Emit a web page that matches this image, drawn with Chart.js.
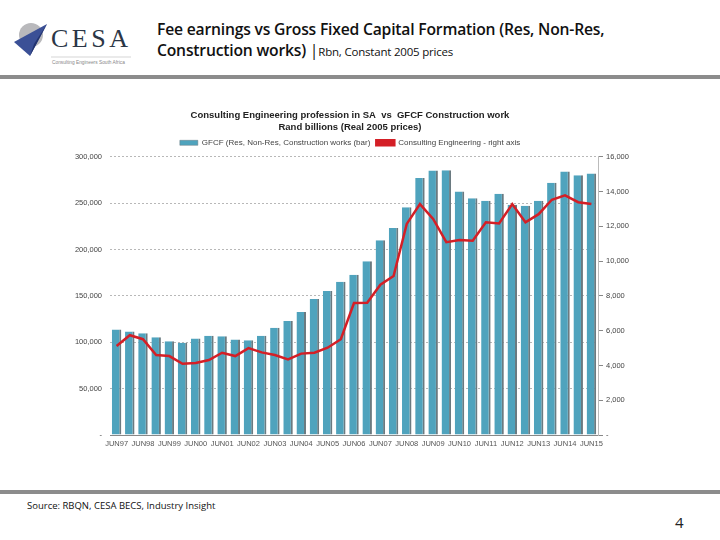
<!DOCTYPE html>
<html>
<head>
<meta charset="utf-8">
<script src="https://cdn.jsdelivr.net/npm/chart.js@4.4.1/dist/chart.umd.min.js"></script>
<style>
  body { margin: 0; width: 720px; height: 540px; background: #fff; position: relative; overflow: hidden; font-family: "Liberation Sans", Arial, sans-serif; }
  .head { position: absolute; left: 157px; top: 19px; font-family: "Open Sans", sans-serif; font-weight: 600; font-size: 15.7px; line-height: 21px; color: #111; letter-spacing: -0.2px; }
  .head small { font-size: 11.5px; font-weight: 400; letter-spacing: -0.2px; }
  .rule { position: absolute; left: 0; width: 720px; height: 4px; background: #8c8c8c; }
  .source { position: absolute; left: 27px; top: 499px; font-family: "Open Sans", sans-serif; font-size: 9.5px; color: #111; }
  .page { position: absolute; left: 675px; top: 512px; font-family: "Open Sans", sans-serif; font-size: 15px; color: #222; }
  #wrap { position: absolute; left: 50px; top: 100px; width: 600px; height: 352px; }
</style>
</head>
<body>
<svg style="position:absolute;left:0;top:10px" width="160" height="60">
  <circle cx="31" cy="25" r="12" fill="#b9b9bc"/>
  <polygon points="14,32 47,14 30,46" fill="#3b5096"/>
  <polygon points="30,46 47,14 34,34" fill="#22336f"/>
  <text x="51" y="37" font-family="Liberation Serif, serif" font-size="26" letter-spacing="3.5" fill="#2b3646">CESA</text>
  <line x1="51" y1="47" x2="131" y2="47" stroke="#bbb" stroke-width="0.6"/>
  <text x="52" y="54" font-family="Liberation Sans, sans-serif" font-size="4.8" fill="#888">Consulting Engineers South Africa</text>
</svg>
<div class="head">Fee earnings vs Gross Fixed Capital Formation (Res, Non-Res,<br>Construction works) <span style="font-weight:400">|</span><small>Rbn, Constant 2005 prices</small></div>
<div class="rule" style="top:75px"></div>
<div id="wrap"><canvas id="myChart"></canvas></div>
<div class="rule" style="top:490px"></div>
<div class="source">Source: RBQN, CESA BECS, Industry Insight</div>
<div class="page">4</div>
<script>
const periods = ['JUN97','DEC97','JUN98','DEC98','JUN99','DEC99','JUN00','DEC00','JUN01','DEC01',
  'JUN02','DEC02','JUN03','DEC03','JUN04','DEC04','JUN05','DEC05','JUN06','DEC06',
  'JUN07','DEC07','JUN08','DEC08','JUN09','DEC09','JUN10','DEC10','JUN11','DEC11',
  'JUN12','DEC12','JUN13','DEC13','JUN14','DEC14','JUN15'];
const tickLabels = ['JUN97','JUN98','JUN99','JUN00','JUN01','JUN02','JUN03','JUN04','JUN05','JUN06',
  'JUN07','JUN08','JUN09','JUN10','JUN11','JUN12','JUN13','JUN14','JUN15'];
const gfcf = [113800,111600,109800,105400,101100,99600,104000,106900,106500,102900,
  102200,106900,115600,122800,132600,146700,155400,165200,172800,187300,
  210100,223200,245700,277200,285100,285500,262700,255400,252500,260100,
  248200,247100,252500,272100,284100,280100,281900];
const consulting = [5120,5740,5510,4600,4540,4100,4140,4310,4730,4540,
  5000,4750,4600,4350,4680,4730,5020,5510,7590,7610,
  8640,9140,12140,13280,12430,11090,11210,11170,12230,12170,
  13280,12230,12700,13530,13780,13390,13280];

const fmt = v => v === 0 ? '-' : v.toLocaleString('en-US');
const tickFont = { family: 'Liberation Sans, Arial', size: 7.5 };

new Chart(document.getElementById('myChart'), {
  data: {
    labels: periods,
    datasets: [
      {
        type: 'line',
        label: 'Consulting Engineering - right axis',
        data: consulting,
        yAxisID: 'y1',
        borderColor: '#d41f26',
        backgroundColor: '#d41f26',
        borderWidth: 2.5,
        pointRadius: 0,
        tension: 0
      },
      {
        type: 'bar',
        label: 'GFCF (Res, Non-Res, Construction works (bar)',
        data: gfcf,
        yAxisID: 'y',
        backgroundColor: '#4fa3bd',
        borderColor: '#6a7a80',
        borderWidth: { left: 0, right: 2, top: 0, bottom: 0 },
        borderSkipped: false,
        categoryPercentage: 0.72,
        barPercentage: 1
      }
    ]
  },
  options: {
    responsive: true,
    maintainAspectRatio: false,
    animation: false,
    layout: { padding: 0 },
    plugins: {
      title: {
        display: true,
        text: ['Consulting Engineering profession in SA  vs  GFCF Construction work', 'Rand billions (Real 2005 prices)'],
        font: { family: 'Liberation Sans, Arial', size: 9.5, weight: 'bold' },
        color: '#222',
        padding: { top: 10, bottom: 0 },
        lineHeight: 1.25
      },
      legend: {
        reverse: true,
        labels: {
          font: { family: 'Liberation Sans, Arial', size: 8 },
          color: '#444',
          boxWidth: 18,
          boxHeight: 5,
          padding: 6
        }
      },
      tooltip: { enabled: false }
    },
    scales: {
      x: {
        grid: { display: false, drawTicks: false },
        border: { color: '#888' },
        ticks: {
          font: tickFont, color: '#555', autoSkip: false, maxRotation: 0, padding: 4,
          callback: (v, i) => tickLabels.includes(periods[i]) ? periods[i] : ''
        }
      },
      y: {
        position: 'left',
        min: 0, max: 300000,
        afterFit: s => { s.width = 60; },
        grid: { color: '#b8b8b8', drawTicks: false },
        border: { display: false, dash: [2, 2] },
        ticks: { stepSize: 50000, font: tickFont, color: '#444', padding: 8, callback: fmt }
      },
      y1: {
        position: 'right',
        min: 0, max: 16000,
        afterFit: s => { s.width = 52; },
        grid: { drawOnChartArea: false, color: '#888', tickLength: 5 },
        border: { color: '#bbb' },
        ticks: { stepSize: 2000, font: tickFont, color: '#444', padding: 3, callback: fmt }
      }
    }
  }
});
</script>
</body>
</html>
